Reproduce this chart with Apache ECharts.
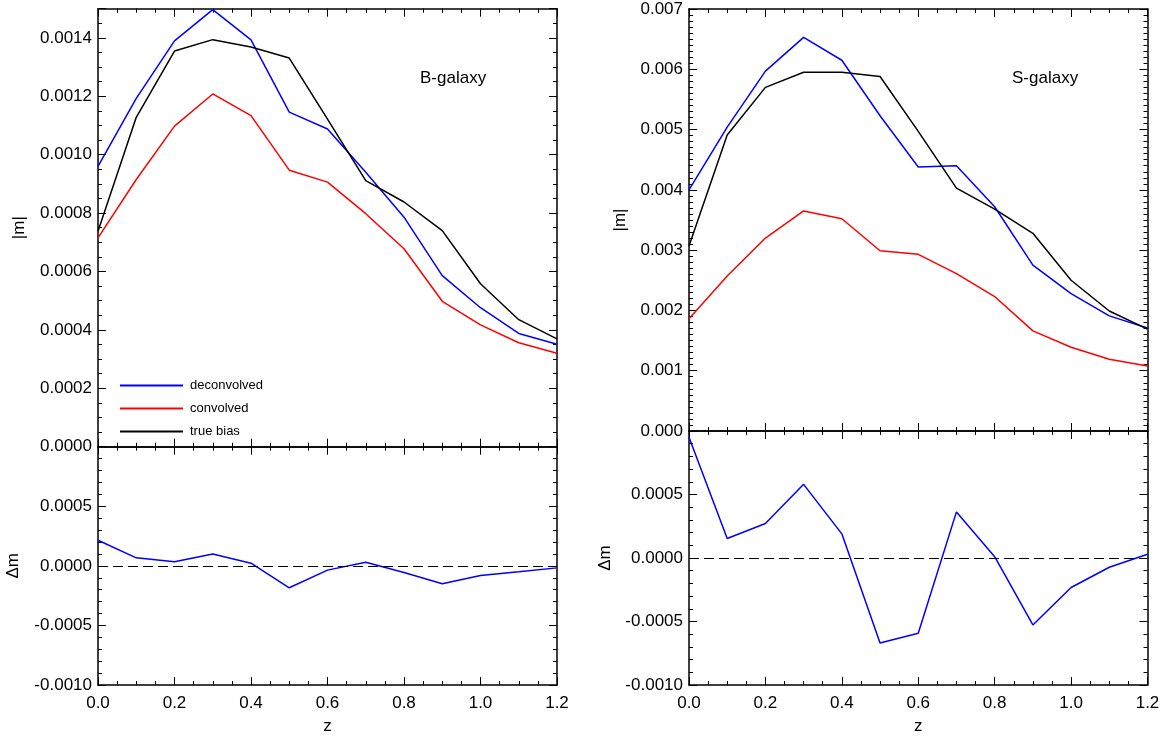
<!DOCTYPE html>
<html>
<head>
<meta charset="utf-8">
<script src="https://cdn.jsdelivr.net/npm/echarts@6/dist/echarts.min.js"></script>
<style>
  html, body { margin: 0; padding: 0; background: #fff; }
  #main { width: 1163px; height: 736px; }
</style>
</head>
<body>
<div id="main"></div>
<script>
// redshift bins
var zBins = [0.0, 0.1, 0.2, 0.3, 0.4, 0.5, 0.6, 0.7, 0.8, 0.9, 1.0, 1.1, 1.2];

// B-galaxy |m|
var bDeconvolved = [0.00096, 0.001193, 0.00139, 0.001497, 0.001393, 0.001146, 0.001088, 0.00094, 0.000786, 0.000586, 0.000476, 0.000388, 0.000351];
var bConvolved   = [0.000715, 0.000915, 0.001098, 0.001208, 0.001134, 0.000947, 0.000906, 0.000798, 0.000678, 0.000498, 0.000417, 0.000356, 0.00032];
var bTrueBias    = [0.000738, 0.001128, 0.001355, 0.001394, 0.001369, 0.001331, 0.001122, 0.000911, 0.000838, 0.00074, 0.000558, 0.000435, 0.000369];
var bDelta       = [0.000215, 0.000067, 0.000034, 0.0001, 0.000022, -0.000184, -0.000036, 0.00003, -0.000056, -0.000151, -0.000081, -0.00005, -0.000017];

// S-galaxy |m|
var sDeconvolved = [0.0040, 0.00504, 0.00597, 0.00653, 0.00615, 0.00523, 0.00438, 0.0044, 0.00372, 0.00275, 0.00228, 0.00191, 0.00171];
var sConvolved   = [0.00186, 0.00257, 0.0032, 0.00365, 0.00352, 0.00299, 0.00293, 0.00261, 0.00223, 0.00166, 0.00139, 0.00119, 0.00108];
var sTrueBias    = [0.00307, 0.00491, 0.0057, 0.00595, 0.00595, 0.00588, 0.00497, 0.00403, 0.00368, 0.00328, 0.0025, 0.00199, 0.00169];
var sDelta       = [0.00095, 0.000154, 0.000272, 0.00058, 0.00019, -0.00067, -0.000593, 0.000363, 0.00001, -0.000527, -0.000232, -0.000073, 0.000029];

var seriesNames = ['deconvolved', 'convolved', 'true bias'];
var panelLabels = ['B-galaxy', 'S-galaxy'];

var FONT = '"Liberation Sans", Helvetica, Arial, sans-serif';

function pairs(ys) {
    return zBins.map(function (z, i) { return [z, ys[i]]; });
}

// x axes: idx 2g bottom, 2g+1 top (mirror)
function xAxisOf(g, pos, withLabels) {
    return {
        type: 'value', gridIndex: g, position: pos,
        min: 0, max: 1.2, interval: 0.2,
        name: withLabels ? 'z' : '', nameLocation: 'middle', nameGap: 33,
        nameTextStyle: { fontFamily: FONT, fontSize: 17, color: '#000' },
        axisLine: { show: true, onZero: false, lineStyle: { color: '#000', width: 1.5 } },
        axisTick: { show: true, inside: true, length: 8, lineStyle: { color: '#000', width: 1 } },
        minorTick: { show: true, splitNumber: 4, length: 4, lineStyle: { color: '#000', width: 1 } },
        splitLine: { show: false },
        axisLabel: {
            show: withLabels, margin: 10, fontFamily: FONT, fontSize: 17, color: '#000',
            formatter: function (v) { return v.toFixed(1); }
        }
    };
}

function yAxisOf(g, pos, min, max, interval, minor, digits, name, gap, hideMax) {
    var main = pos === 'left';
    return {
        type: 'value', gridIndex: g, position: pos,
        min: min, max: max, interval: interval,
        name: main ? name : '', nameLocation: 'middle', nameGap: gap,
        nameTextStyle: { fontFamily: FONT, fontSize: 17, color: '#000' },
        axisLine: { show: true, onZero: false, lineStyle: { color: '#000', width: 1.5 } },
        axisTick: { show: true, inside: true, length: 8, lineStyle: { color: '#000', width: 1 } },
        minorTick: { show: true, splitNumber: minor, length: 4, lineStyle: { color: '#000', width: 1 } },
        splitLine: { show: false },
        axisLabel: {
            show: main, margin: 6, showMaxLabel: !hideMax,
            fontFamily: FONT, fontSize: 17, color: '#000',
            formatter: function (v) { return v.toFixed(digits); }
        }
    };
}

function lineSeries(name, data, color, g) {
    return {
        name: name, type: 'line', data: pairs(data),
        xAxisIndex: 2 * g, yAxisIndex: 2 * g,
        symbol: 'none', lineStyle: { color: color, width: 1.5 }, itemStyle: { color: color },
        z: 3
    };
}

function deltaSeries(data, g) {
    var s = lineSeries('delta', data, '#0000ff', g);
    s.markLine = {
        silent: true, symbol: 'none', label: { show: false },
        lineStyle: { color: '#000', width: 1, type: [10, 5] },
        data: [{ yAxis: 0 }]
    };
    return s;
}

var myChart = echarts.init(document.getElementById('main'));
var option = {
    animation: false,
    backgroundColor: '#fff',
    textStyle: { fontFamily: FONT },
    grid: [
        { left: 98, top: 8.7, width: 459, height: 438 },
        { left: 98, top: 446.7, width: 459, height: 239 },
        { left: 689, top: 9, width: 458.5, height: 422 },
        { left: 689, top: 431, width: 458.5, height: 255 }
    ],
    xAxis: [
        xAxisOf(0, 'bottom', false), xAxisOf(0, 'top', false),
        xAxisOf(1, 'bottom', true),  xAxisOf(1, 'top', false),
        xAxisOf(2, 'bottom', false), xAxisOf(2, 'top', false),
        xAxisOf(3, 'bottom', true),  xAxisOf(3, 'top', false)
    ],
    yAxis: [
        yAxisOf(0, 'left', 0, 0.0015, 0.0002, 4, 4, '|m|', 70, true),
        yAxisOf(0, 'right', 0, 0.0015, 0.0002, 4, 4, '', 0, true),
        yAxisOf(1, 'left', -0.001, 0.001, 0.0005, 5, 4, 'Δm', 76, true),
        yAxisOf(1, 'right', -0.001, 0.001, 0.0005, 5, 4, '', 0, true),
        yAxisOf(2, 'left', 0, 0.007, 0.001, 10, 3, '|m|', 60, false),
        yAxisOf(2, 'right', 0, 0.007, 0.001, 10, 3, '', 0, false),
        yAxisOf(3, 'left', -0.001, 0.001, 0.0005, 5, 4, 'Δm', 75, true),
        yAxisOf(3, 'right', -0.001, 0.001, 0.0005, 5, 4, '', 0, true)
    ],
    legend: {
        data: seriesNames,
        orient: 'vertical', left: 115, top: 374,
        itemWidth: 63, itemHeight: 2, itemGap: 10, icon: 'rect',
        selectedMode: false,
        textStyle: { fontFamily: FONT, fontSize: 13, color: '#000', padding: [0, 0, 0, 2] }
    },
    graphic: [
        { type: 'text', left: 420, top: 70, style: { text: panelLabels[0], font: '17px ' + FONT, fill: '#000' } },
        { type: 'text', left: 1012, top: 70, style: { text: panelLabels[1], font: '17px ' + FONT, fill: '#000' } }
    ],
    series: [
        lineSeries(seriesNames[0], bDeconvolved, '#0000ff', 0),
        lineSeries(seriesNames[1], bConvolved, '#ff0000', 0),
        lineSeries(seriesNames[2], bTrueBias, '#000000', 0),
        deltaSeries(bDelta, 1),
        lineSeries(seriesNames[0], sDeconvolved, '#0000ff', 2),
        lineSeries(seriesNames[1], sConvolved, '#ff0000', 2),
        lineSeries(seriesNames[2], sTrueBias, '#000000', 2),
        deltaSeries(sDelta, 3)
    ]
};
if (option && typeof option === 'object') {
    myChart.setOption(option, true);
}
</script>
</body>
</html>
